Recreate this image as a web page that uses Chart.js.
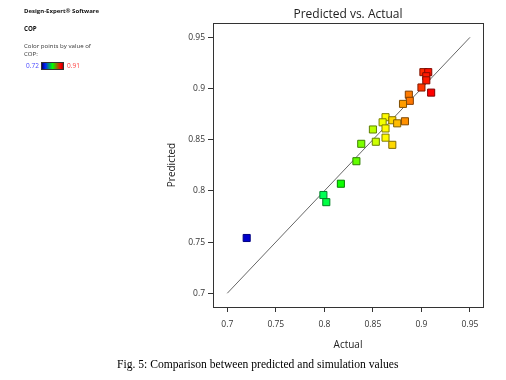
<!DOCTYPE html>
<html>
<head>
<meta charset="utf-8">
<script src="https://cdn.jsdelivr.net/npm/chart.js@4"></script>
<style>
  html, body { margin: 0; padding: 0; background: #fff; }
  #wrap { position: relative; width: 506px; height: 380px; overflow: hidden; }
  canvas { position: absolute; left: 0; top: 0; }
  .t { position: absolute; white-space: nowrap; font-family: "Open Sans", sans-serif; color: #111; }
  .b { font-weight: bold; }
  #bar { position: absolute; left: 41px; top: 62px; width: 21px; height: 6px; border: 1px solid #333;
         background: linear-gradient(90deg, #000070, #0020ff 15%, #00ff00 50%, #ff0000 88%, #b00000); }
  #cap { position: absolute; left: 117px; top: 358px; font-family: "Liberation Serif", "Times New Roman", serif; font-size: 11.6px; color: #000; white-space: nowrap; }
</style>
</head>
<body>
<div id="wrap">
  <canvas id="c" width="506" height="380"></canvas>
  <div class="t b" style="left:24px; top:7px; font-size:6px;">Design-Expert® Software</div>
  <div class="t b" style="left:24px; top:24px; font-size:6.2px;">COP</div>
  <div class="t" style="left:24px; top:41px; font-size:6.1px; color:#333;">Color points by value of</div>
  <div class="t" style="left:24px; top:49px; font-size:6.1px; color:#333;">COP:</div>
  <div class="t" id="lmin" style="left:26px; top:61px; font-size:6.5px; color:#4a4aff;"></div>
  <div id="bar"></div>
  <div class="t" id="lmax" style="left:67px; top:61px; font-size:6.5px; color:#ff4040;"></div>
  <div id="cap">Fig. 5: Comparison between predicted and simulation values</div>
</div>
<script>
// ---- data ----
const actual    = [0.902, 0.907, 0.905, 0.905, 0.900, 0.910, 0.887, 0.888, 0.881, 0.863,
                   0.860, 0.870, 0.875, 0.883, 0.850, 0.863, 0.838, 0.853, 0.863, 0.870,
                   0.833, 0.817, 0.799, 0.802, 0.720];
const predicted = [0.916, 0.916, 0.912, 0.908, 0.901, 0.896, 0.894, 0.888, 0.885, 0.872,
                   0.867, 0.869, 0.866, 0.868, 0.860, 0.861, 0.846, 0.848, 0.852, 0.845,
                   0.829, 0.807, 0.796, 0.789, 0.754];
const diagonal  = [0.70, 0.95];
const tickValues = [0.70, 0.75, 0.80, 0.85, 0.90, 0.95];
const tickLabels = ['0.7', '0.75', '0.8', '0.85', '0.9', '0.95'];
const colorRange = [0.72, 0.91];
const colorRangeLabels = ['0.72', '0.91'];

document.getElementById('lmin').textContent = colorRangeLabels[0];
document.getElementById('lmax').textContent = colorRangeLabels[1];

function hueFor(v) {
  let t = (v - colorRange[0]) / (colorRange[1] - colorRange[0]);
  t = Math.max(0, Math.min(1, t));
  return 240 * (1 - t);
}
function fillFor(v) {
  const h = hueFor(v);
  const l = h > 200 ? 40 : 50;
  return 'hsl(' + h.toFixed(0) + ',100%,' + l + '%)';
}
function edgeFor(v) {
  const h = hueFor(v);
  return 'hsl(' + h.toFixed(0) + ',100%,25%)';
}

const points = actual.map((a, i) => ({ x: a, y: predicted[i] }));
const line = diagonal.map(v => ({ x: v, y: v }));

const frame = {
  id: 'frame',
  afterDraw(chart) {
    const a = chart.chartArea, ctx = chart.ctx;
    ctx.save();
    ctx.strokeStyle = '#333';
    ctx.lineWidth = 1;
    ctx.strokeRect(Math.round(a.left) + 0.5, Math.round(a.top) + 0.5,
                   Math.round(a.right - a.left), Math.round(a.bottom - a.top));
    ctx.restore();
  }
};

const font = { family: '"Open Sans", sans-serif' };

new Chart(document.getElementById('c'), {
  type: 'scatter',
  data: {
    datasets: [
      {
        type: 'line',
        data: line,
        borderColor: '#666',
        borderWidth: 1,
        pointRadius: 0,
        fill: false,
        order: 2
      },
      {
        data: points,
        pointStyle: 'rect',
        pointRadius: 5,
        pointHoverRadius: 5,
        borderWidth: 1,
        backgroundColor: ctx => fillFor(actual[ctx.dataIndex]),
        borderColor: ctx => edgeFor(actual[ctx.dataIndex]),
        order: 1
      }
    ]
  },
  options: {
    responsive: false,
    animation: false,
    layout: { padding: { left: 150, right: 23, top: 0, bottom: 28 } },
    plugins: {
      legend: { display: false },
      tooltip: { enabled: false },
      title: {
        display: true,
        text: 'Predicted vs. Actual',
        fullSize: false,
        color: '#222',
        font: { family: font.family, size: 12, weight: 'normal' },
        padding: { top: 7, bottom: 1.6 }
      }
    },
    scales: {
      x: {
        type: 'linear',
        min: 0.6853, max: 0.9634,
        afterBuildTicks: s => { s.ticks = tickValues.map(v => ({ value: v })); },
        afterFit: s => { s.height = 45; },
        ticks: {
          callback: (v, i) => tickLabels[i],
          color: '#333',
          font: { family: font.family, size: 8.5 },
          padding: 7,
          maxRotation: 0
        },
        grid: { drawOnChartArea: false, drawTicks: true, tickLength: 5, color: '#333' },
        border: { display: true, color: '#333' },
        title: {
          display: true, text: 'Actual', color: '#222',
          font: { family: font.family, size: 10 },
          padding: { top: 0, bottom: 1 }
        }
      },
      y: {
        type: 'linear',
        min: 0.6866, max: 0.964,
        afterBuildTicks: s => { s.ticks = tickValues.map(v => ({ value: v })); },
        afterFit: s => { s.width = 63; },
        ticks: {
          callback: (v, i) => tickLabels[i],
          color: '#333',
          font: { family: font.family, size: 8.5 },
          padding: 3
        },
        grid: { drawOnChartArea: false, drawTicks: true, tickLength: 5, color: '#333' },
        border: { display: true, color: '#333' },
        title: {
          display: true, text: 'Predicted', color: '#222',
          font: { family: font.family, size: 10 },
          padding: { top: 16, bottom: 0 }
        }
      }
    }
  },
  plugins: [frame]
});
</script>
</body>
</html>
